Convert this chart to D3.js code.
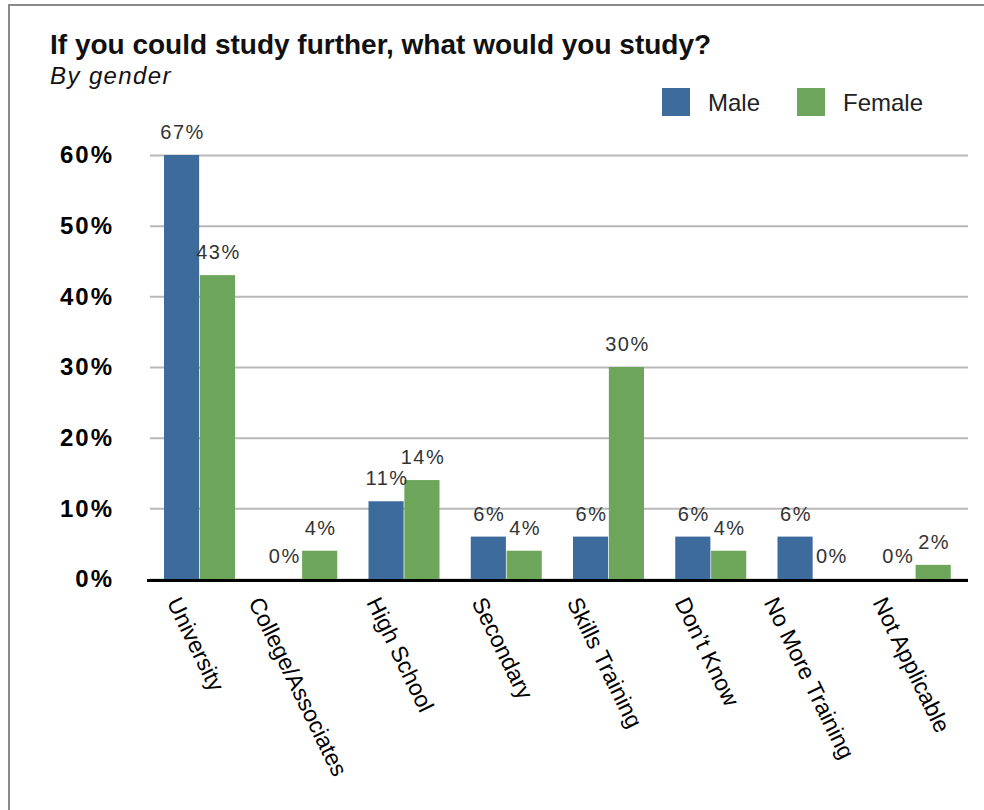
<!DOCTYPE html>
<html>
<head>
<meta charset="utf-8">
<script src="https://cdn.jsdelivr.net/npm/d3@7"></script>
<style>
  html, body { margin: 0; padding: 0; background: #fff; }
  svg { display: block; }
  text { font-family: "Liberation Sans", Arial, Helvetica, sans-serif; }
</style>
</head>
<body>
<svg id="chart" width="984" height="810"></svg>
<script>
const categories = ["University", "College/Associates", "High School", "Secondary", "Skills Training", "Don\u2019t Know", "No More Training", "Not Applicable"];
const seriesNames = ["Male", "Female"];
const maleValues = [67, 0, 11, 6, 6, 6, 6, 0];
const femaleValues = [43, 4, 14, 4, 30, 4, 0, 2];
const yTicks = [0, 10, 20, 30, 40, 50, 60];
const colors = ["#3D6B9B", "#6DA55B"];

const title = "If you could study further, what would you study?";
const subtitle = "By gender";

const svg = d3.select("#chart");
const W = 984, H = 810;
const plot = { left: 150, right: 968, top: 155, bottom: 579 };

// frame
svg.append("line").attr("x1", 8).attr("x2", W).attr("y1", 5).attr("y2", 5)
  .attr("stroke", "#8a8a8a").attr("stroke-width", 2);
svg.append("line").attr("x1", 9).attr("x2", 9).attr("y1", 4).attr("y2", H)
  .attr("stroke", "#8a8a8a").attr("stroke-width", 2);

// title
svg.append("text").attr("x", 50).attr("y", 54).text(title)
  .attr("font-size", 28).attr("font-weight", "bold").attr("fill", "#111");
svg.append("text").attr("x", 50).attr("y", 84).text(subtitle)
  .attr("font-size", 24).attr("font-style", "italic").attr("letter-spacing", 1.4).attr("fill", "#111");

// scales
const x = d3.scaleBand().domain(categories).range([plot.left, plot.right]);
const x1 = d3.scaleBand().domain(seriesNames).range([14, 85]).paddingInner(0.02);
const y = d3.scaleLinear().domain([0, 60]).range([plot.bottom, plot.top]).clamp(true);
const color = d3.scaleOrdinal().domain(seriesNames).range(colors);

// y axis + gridlines
const yAxis = d3.axisLeft(y).tickValues(yTicks).tickFormat(d => d + "%")
  .tickSize(-(plot.right - plot.left)).tickPadding(36);
const gy = svg.append("g").attr("transform", `translate(${plot.left},0)`).call(yAxis);
gy.select(".domain").remove();
gy.selectAll(".tick line").attr("stroke", "#b9b9b9").attr("stroke-width", 2);
gy.selectAll(".tick text").attr("font-size", 24).attr("font-weight", "bold")
  .attr("fill", "#000").attr("letter-spacing", 2).attr("font-family", "Liberation Sans, Arial, sans-serif");

// bars
const rows = categories.map((c, i) => ({ cat: c, vals: [
  { key: "Male", value: maleValues[i] },
  { key: "Female", value: femaleValues[i] }
]}));

const groups = svg.append("g").selectAll("g").data(rows).join("g")
  .attr("transform", d => `translate(${x(d.cat)},0)`);

groups.selectAll("rect").data(d => d.vals).join("rect")
  .attr("x", d => x1(d.key))
  .attr("width", x1.bandwidth())
  .attr("y", d => y(d.value))
  .attr("height", d => y(0) - y(d.value))
  .attr("fill", d => color(d.key));

groups.selectAll("text.val").data(d => d.vals).join("text")
  .attr("class", "val")
  .attr("x", d => x1(d.key) + x1.bandwidth() / 2 + 1)
  .attr("y", d => y(d.value) - 16)
  .attr("text-anchor", "middle")
  .attr("font-size", 20)
  .attr("letter-spacing", 1.5)
  .attr("fill", "#333")
  .text(d => d.value + "%");

// x axis baseline
svg.append("line").attr("x1", 147).attr("x2", plot.right)
  .attr("y1", plot.bottom + 1.5).attr("y2", plot.bottom + 1.5)
  .attr("stroke", "#000").attr("stroke-width", 3);

// category labels, rotated
const angle = 64;
const rad = angle * Math.PI / 180;
const fs = 23;
const capH = fs * 0.72;
const labels = svg.append("g").selectAll("text").data(categories).join("text")
  .attr("font-size", fs).attr("fill", "#000")
  .text(d => d);
labels.each(function(d) {
  const L = this.getComputedTextLength();
  const cx = x(d) + x.bandwidth() / 2 - 5;
  const bw = L * Math.cos(rad) + capH * Math.sin(rad);
  const x0 = cx - bw / 2;
  const y0 = 595 + capH * Math.cos(rad);
  d3.select(this).attr("transform", `translate(${x0},${y0}) rotate(${angle})`);
});

// legend
const legend = svg.append("g");
const legendX = [662, 797];
seriesNames.forEach((s, i) => {
  legend.append("rect").attr("x", legendX[i]).attr("y", 88).attr("width", 28).attr("height", 28)
    .attr("fill", color(s));
  legend.append("text").attr("x", legendX[i] + 46).attr("y", 111).text(s)
    .attr("font-size", 24).attr("fill", "#222");
});
</script>
</body>
</html>
